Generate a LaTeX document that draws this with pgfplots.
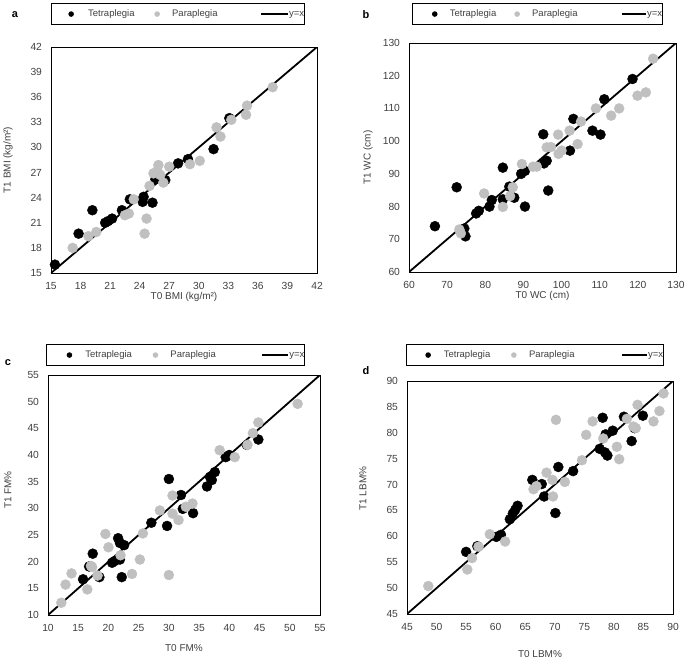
\documentclass[border=0pt]{standalone}
\usepackage{pgfplots}
\pgfplotsset{compat=1.18}
\usepackage{fontspec}
\setmainfont{Liberation Sans}
\definecolor{para}{RGB}{192,192,192}
\definecolor{txt}{RGB}{64,64,64}
\newcommand{\fs}{\fontsize{9.5}{11}\selectfont}
\newcommand{\ft}{\fontsize{10.3}{12}\selectfont}
\newcommand{\fl}{\fontsize{10}{12}\selectfont}
\pgfplotsset{
  panel/.style={
    scale only axis,
    anchor=south west,
    axis line style={black, line width=0.9pt},
    major tick length=0pt,
    tick style={draw=none},
    ticklabel style={font=\ft, text=txt},
    label style={font=\fl, text=txt},
    /pgf/number format/assume math mode=true,
    xticklabel style={yshift=-6pt},
    yticklabel style={xshift=-5.5pt},
    legend columns=3,
    legend cell align=left,
    legend style={draw=black, line width=0.9pt, fill=white,
      inner xsep=0pt, inner ysep=6pt,
      at={(axis description cs:0,1)}, anchor=south west,
      nodes={inner sep=0pt, font=\fs, text=txt, text height=7pt, text depth=2pt},
      column sep=0pt},
  },
  tet/.style={only marks, mark=*, mark size=5pt, black, mark options={draw=none, fill=black}},
  par/.style={only marks, mark=*, mark size=5pt, para, mark options={draw=none, fill=para}},
  idl/.style={black, line width=1.8pt, no marks},
}
\begin{document}
\begin{tikzpicture}
\useasboundingbox (0pt,0pt) rectangle (685pt,-661pt);
% ---------------- panel a
\begin{axis}[panel, at={(51pt,-273pt)}, width=266pt, height=226pt,
  xmin=15, xmax=42, ymin=15, ymax=42,
  xtick={15,18,...,42}, ytick={15,18,...,42},
  xlabel={T0 BMI (kg/m²)}, ylabel={T1 BMI (kg/m²)},
  xlabel style={at={([yshift=-24pt]axis description cs:0.5,0)}, anchor=center},
  ylabel style={at={([xshift=-43pt]axis description cs:0,0.5)}, anchor=center},
  legend style={xshift=-0.3pt, yshift=22pt}]
\addplot[tet, legend image code/.code={\path[draw=none,fill=none] (0pt,-4pt) rectangle (37pt,4pt); \fill[black] (20pt,0pt) circle (2.3pt);}] coordinates {
(15.4,16.0) (17.8,19.7) (19.2,22.5) (20.5,21.0) (20.8,21.2) (21.2,21.5) (22.2,22.5) (23.0,23.8) (24.3,23.5) (24.4,24.1) (25.3,23.4) (25.6,26.2) (25.5,26.9) (26.6,26.1) (27.9,28.1) (28.9,28.6) (31.5,29.8) (33.1,33.5)};
\addlegendentry{\makebox[62pt][l]{Tetraplegia}}
\addplot[par, legend image code/.code={\path[draw=none,fill=none] (0pt,-4pt) rectangle (22pt,4pt); \fill[para] (7pt,0pt) circle (2.3pt);}] coordinates {
(17.2,18.0) (18.8,19.4) (19.6,19.9) (22.5,21.9) (22.9,22.1) (23.4,23.8) (24.5,19.7) (24.7,21.5) (25.0,25.4) (25.4,26.9) (25.8,27.2) (25.9,27.9) (26.1,26.7) (26.4,25.8) (27.0,27.7) (29.1,28.0) (30.1,28.4) (31.8,32.4) (32.2,31.3) (33.3,33.3) (34.8,33.9) (34.9,35.0) (37.5,37.2)};
\addlegendentry{\makebox[82pt][l]{Paraplegia}}
\addplot[idl, legend image code/.code={\path[draw=none,fill=none] (0pt,-4pt) rectangle (34pt,4pt); \draw[black, line width=1.8pt] (7pt,0pt) -- (34pt,0pt);}] coordinates {(15,15) (42,42)};
\addlegendentry{y=x\hspace{3pt}}
\end{axis}
% ---------------- panel b
\begin{axis}[panel, at={(409pt,-272pt)}, width=267pt, height=229pt,
  xmin=60, xmax=130, ymin=60, ymax=130,
  xtick={60,70,...,130}, ytick={60,70,...,130},
  xlabel={T0 WC (cm)}, ylabel={T1 WC (cm)},
  xlabel style={at={([yshift=-24pt]axis description cs:0.5,0)}, anchor=center},
  ylabel style={at={([xshift=-41pt]axis description cs:0,0.5)}, anchor=center},
  legend style={xshift=2.7pt, yshift=18pt}]
\addplot[tet, legend image code/.code={\path[draw=none,fill=none] (0pt,-4pt) rectangle (37.7pt,4pt); \fill[black] (22.6pt,0pt) circle (2.3pt);}] coordinates {
(66.8,74.0) (72.5,85.9) (74.5,73.3) (74.8,70.9) (77.6,77.9) (78.3,78.7) (81.1,80.0) (81.7,82.0) (84.6,91.9) (84.6,82.2) (86.3,86.1) (87.6,82.7) (89.4,90.0) (90.4,90.9) (90.4,80.0) (95.2,102.1) (95.4,93.2) (96.1,94.0) (96.5,84.9) (102.2,97.1) (103.1,106.8) (108.1,103.2) (110.2,102.0) (111.2,112.8) (118.6,119.0)};
\addlegendentry{\makebox[60pt][l]{Tetraplegia}}
\addplot[par, legend image code/.code={\path[draw=none,fill=none] (0pt,-4pt) rectangle (22.3pt,4pt); \fill[para] (7.3pt,0pt) circle (2.3pt);}] coordinates {
(73.2,73.0) (73.6,71.8) (79.7,84.0) (84.6,79.9) (86.5,83.2) (87.2,85.9) (89.6,93.0) (92.5,92.2) (93.5,92.2) (96.1,98.1) (97.2,98.2) (99.1,102.0) (99.2,96.1) (100.0,97.1) (102.1,103.2) (104.2,99.1) (105.1,106.0) (109.0,110.0) (113.0,107.8) (115.1,110.0) (119.9,113.9) (122.1,114.9) (124.0,125.2)};
\addlegendentry{\makebox[82pt][l]{Paraplegia}}
\addplot[idl, legend image code/.code={\path[draw=none,fill=none] (0pt,-4pt) rectangle (32pt,4pt); \draw[black, line width=1.8pt] (8pt,0pt) -- (32pt,0pt);}] coordinates {(60,60) (130,130)};
\addlegendentry{y=x\hspace{6pt}}
\end{axis}
% ---------------- panel c
\begin{axis}[panel, at={(48pt,-615pt)}, width=272pt, height=240pt,
  xmin=10, xmax=55, ymin=10, ymax=55,
  xtick={10,15,...,55}, ytick={10,15,...,55},
  xlabel={T0 FM\%}, ylabel={T1 FM\%},
  xlabel style={at={([yshift=-33pt]axis description cs:0.5,0)}, anchor=center},
  ylabel style={at={([xshift=-40pt,yshift=5pt]axis description cs:0,0.5)}, anchor=center},
  legend style={xshift=-2pt, yshift=9pt}]
\addplot[tet, legend image code/.code={\path[draw=none,fill=none] (0pt,-4pt) rectangle (39pt,4pt); \fill[black] (23pt,0pt) circle (2.3pt);}] coordinates {
(15.8,16.7) (16.8,19.1) (17.4,21.5) (18.5,17.1) (20.6,19.8) (21.0,20.1) (21.6,24.4) (21.9,23.5) (22.6,23.1) (21.9,20.4) (22.2,17.1) (27.1,27.3) (29.7,26.7) (30.0,35.5) (32.0,32.5) (32.3,29.9) (34.0,29.1) (36.3,34.1) (37.1,35.3) (36.8,35.9) (37.6,36.8) (39.4,39.6) (40.0,40.0) (42.9,41.9) (44.8,42.9)};
\addlegendentry{\makebox[62pt][l]{Tetraplegia}}
\addplot[par, legend image code/.code={\path[draw=none,fill=none] (0pt,-4pt) rectangle (23pt,4pt); \fill[para] (8pt,0pt) circle (2.3pt);}] coordinates {
(12.2,12.3) (12.9,15.7) (13.9,17.8) (16.5,14.8) (17.1,19.2) (17.3,19.0) (18.2,17.4) (19.5,25.2) (20.0,22.7) (22.0,21.2) (23.9,17.7) (25.2,20.4) (25.7,25.3) (28.5,29.6) (30.0,17.5) (30.6,32.4) (30.6,29.0) (31.6,27.8) (32.8,30.3) (33.9,30.9) (38.4,40.9) (40.9,39.6) (43.0,41.9) (43.9,44.1) (44.8,46.1) (51.3,49.6)};
\addlegendentry{\makebox[82pt][l]{Paraplegia}}
\addplot[idl, legend image code/.code={\path[draw=none,fill=none] (0pt,-4pt) rectangle (36pt,4pt); \draw[black, line width=1.8pt] (10pt,0pt) -- (36pt,0pt);}] coordinates {(10,10) (55,55)};
\addlegendentry{y=x\hspace{7pt}}
\end{axis}
% ---------------- panel d
\begin{axis}[panel, at={(407pt,-614pt)}, width=266pt, height=233pt,
  xmin=45, xmax=90, ymin=45, ymax=90,
  xtick={45,50,...,90}, ytick={45,50,...,90},
  xlabel={T0 LBM\%}, ylabel={T1 LBM\%},
  xlabel style={at={([yshift=-40pt]axis description cs:0.5,0)}, anchor=center},
  ylabel style={at={([xshift=-44pt,yshift=9pt]axis description cs:0,0.5)}, anchor=center},
  legend style={xshift=-1.3pt, yshift=15pt}]
\addplot[tet, legend image code/.code={\path[draw=none,fill=none] (0pt,-4pt) rectangle (37.7pt,4pt); \fill[black] (22pt,0pt) circle (2.3pt);}] coordinates {
(55.0,57.0) (56.9,58.1) (60.1,59.9) (60.9,60.3) (62.4,63.3) (62.9,64.4) (63.3,65.1) (63.7,65.9) (66.2,70.9) (67.8,70.1) (68.2,67.7) (70.1,64.5) (70.6,73.4) (73.1,72.6) (77.6,76.9) (78.1,82.9) (78.5,76.2) (78.9,75.6) (78.6,79.7) (79.8,80.4) (81.7,83.1) (83.0,78.4) (83.5,80.9) (84.9,83.3)};
\addlegendentry{\makebox[62pt][l]{Tetraplegia}}
\addplot[par, legend image code/.code={\path[draw=none,fill=none] (0pt,-4pt) rectangle (23.3pt,4pt); \fill[para] (8pt,0pt) circle (2.3pt);}] coordinates {
(48.6,50.4) (55.2,53.6) (56.0,55.8) (57.1,58.0) (59.0,60.4) (61.6,59.0) (66.4,69.1) (66.9,69.7) (68.6,72.3) (69.6,70.9) (69.7,67.7) (70.2,82.5) (71.7,70.5) (74.6,74.7) (75.3,79.6) (76.4,82.2) (78.2,78.9) (80.5,77.3) (80.9,74.9) (82.2,82.7) (83.3,81.2) (83.7,80.9) (84.0,85.4) (86.7,82.2) (87.7,84.2) (88.4,87.6)};
\addlegendentry{\makebox[82pt][l]{Paraplegia}}
\addplot[idl, legend image code/.code={\path[draw=none,fill=none] (0pt,-4pt) rectangle (36pt,4pt); \draw[black, line width=1.8pt] (11pt,0pt) -- (36pt,0pt);}] coordinates {(45,45) (90,90)};
\addlegendentry{y=x\hspace{5pt}}
\end{axis}
% panel letters
\node[font=\bfseries\fontsize{11}{13}\selectfont] at (15pt,-15pt) {a};
\node[font=\bfseries\fontsize{11}{13}\selectfont] at (366pt,-15pt) {b};
\node[font=\bfseries\fontsize{11}{13}\selectfont] at (8pt,-363pt) {c};
\node[font=\bfseries\fontsize{11}{13}\selectfont] at (366pt,-371pt) {d};
\end{tikzpicture}
\end{document}
